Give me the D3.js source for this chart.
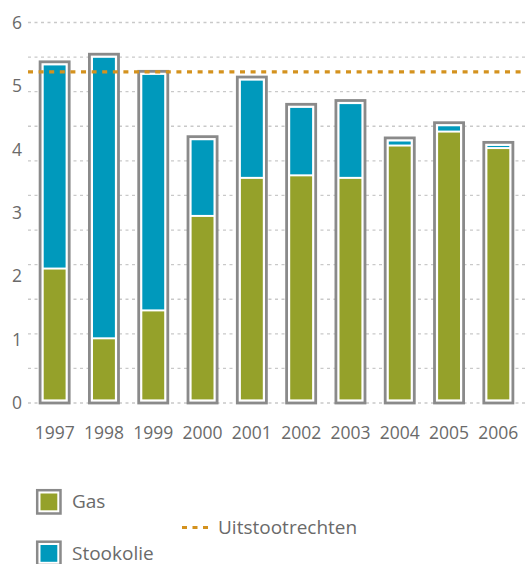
<!DOCTYPE html>
<html>
<head>
<meta charset="utf-8">
<script src="https://cdn.jsdelivr.net/npm/d3@7"></script>
<style>
  body { margin: 0; background: #fff; }
  text { font-family: "Open Sans", sans-serif; fill: #6a6a6a; }
</style>
</head>
<body>
<svg id="chart" width="525" height="564"></svg>
<script>
var years = ['1997', '1998', '1999', '2000', '2001', '2002', '2003', '2004', '2005', '2006']
var gas = [2.12, 1.02, 1.46, 2.95, 3.55, 3.59, 3.55, 4.06, 4.28, 4.02]
var stookolie = [3.26, 4.48, 3.77, 1.25, 1.59, 1.12, 1.22, 0.12, 0.14, 0.09]
var uitstootrechten = 5.22
var yTicks = [0, 1, 2, 3, 4, 5, 6]

var svg = d3.select('#chart'),
    green = '#95a12a',
    blue = '#0099bc',
    frame = '#8a8a8a',
    orange = '#d4921e'

var x = d3.scaleBand()
    .domain(years)
    .range([30, 523])
    .paddingInner(0.41)
    .paddingOuter(0.205)

var y = d3.scaleLinear()
    .domain([0, 6])
    .range([403, 22.5])

// gridlines: 11 even steps over the axis
var grid = d3.range(12).map((i) => i * 6 / 11)
svg.append('g')
    .selectAll('line')
    .data(grid)
    .join('line')
    .attr('x1', 28).attr('x2', 525)
    .attr('y1', (d) => y(d)).attr('y2', (d) => y(d))
    .attr('stroke', '#c9c9c9')
    .attr('stroke-width', 1.3)
    .attr('stroke-dasharray', '3,3.5')

// y labels
svg.append('g')
    .selectAll('text')
    .data(yTicks)
    .join('text')
    .attr('x', 22)
    .attr('y', (d) => y(d))
    .attr('dy', '0.36em')
    .attr('text-anchor', 'end')
    .style('font-size', '17.5px')
    .text((d) => d)

var rows = years.map((yr, i) => ({year: yr, gas: gas[i], olie: stookolie[i], total: gas[i] + stookolie[i]}))

var bars = svg.append('g')
    .selectAll('g')
    .data(rows)
    .join('g')

// outer frame
bars.append('rect')
    .attr('x', (d) => x(d.year))
    .attr('width', x.bandwidth())
    .attr('y', (d) => y(d.total))
    .attr('height', (d) => y(0) - y(d.total))
    .attr('fill', '#fff')
    .attr('stroke', frame)
    .attr('stroke-width', 2.8)

var inset = 3.6
// gas part
bars.append('rect')
    .attr('x', (d) => x(d.year) + inset)
    .attr('width', x.bandwidth() - 2 * inset)
    .attr('y', (d) => y(d.gas) + 1)
    .attr('height', (d) => y(0) - inset - y(d.gas) - 1)
    .attr('fill', green)
// stookolie part
bars.append('rect')
    .attr('x', (d) => x(d.year) + inset)
    .attr('width', x.bandwidth() - 2 * inset)
    .attr('y', (d) => y(d.total) + inset)
    .attr('height', (d) => Math.max(0.8, y(d.gas) - 1 - y(d.total) - inset))
    .attr('fill', blue)

// emission rights line
svg.append('line')
    .attr('x1', 28).attr('x2', 525)
    .attr('y1', y(uitstootrechten)).attr('y2', y(uitstootrechten))
    .attr('stroke', orange)
    .attr('stroke-width', 3.2)
    .attr('stroke-dasharray', '5,5.6')

// x labels
svg.append('g')
    .selectAll('text')
    .data(years)
    .join('text')
    .attr('x', (d) => x(d) + x.bandwidth() / 2)
    .attr('y', 433)
    .attr('dy', '0.36em')
    .attr('text-anchor', 'middle')
    .style('font-size', '17.5px')
    .text((d) => d)

// legend
var legend = [
    {name: 'Gas', color: green, y: 501.5},
    {name: 'Stookolie', color: blue, y: 553}
]
var lg = svg.append('g')
    .selectAll('g')
    .data(legend)
    .join('g')
lg.append('rect')
    .attr('x', 37.2).attr('y', (d) => d.y - 11.3)
    .attr('width', 23.3).attr('height', 23.3)
    .attr('fill', '#fff')
    .attr('stroke', frame)
    .attr('stroke-width', 2.5)
lg.append('rect')
    .attr('x', 40.5).attr('y', (d) => d.y - 8)
    .attr('width', 16.8).attr('height', 16.8)
    .attr('fill', (d) => d.color)
lg.append('text')
    .attr('x', 72).attr('y', (d) => d.y)
    .attr('dy', '0.36em')
    .style('font-size', '19px')
    .text((d) => d.name)

svg.append('line')
    .attr('x1', 182).attr('x2', 210)
    .attr('y1', 527.5).attr('y2', 527.5)
    .attr('stroke', orange)
    .attr('stroke-width', 3.2)
    .attr('stroke-dasharray', '5,5.5')
svg.append('text')
    .attr('x', 218).attr('y', 527.5)
    .attr('dy', '0.36em')
    .style('font-size', '19px')
    .text('Uitstootrechten')
</script>
</body>
</html>
